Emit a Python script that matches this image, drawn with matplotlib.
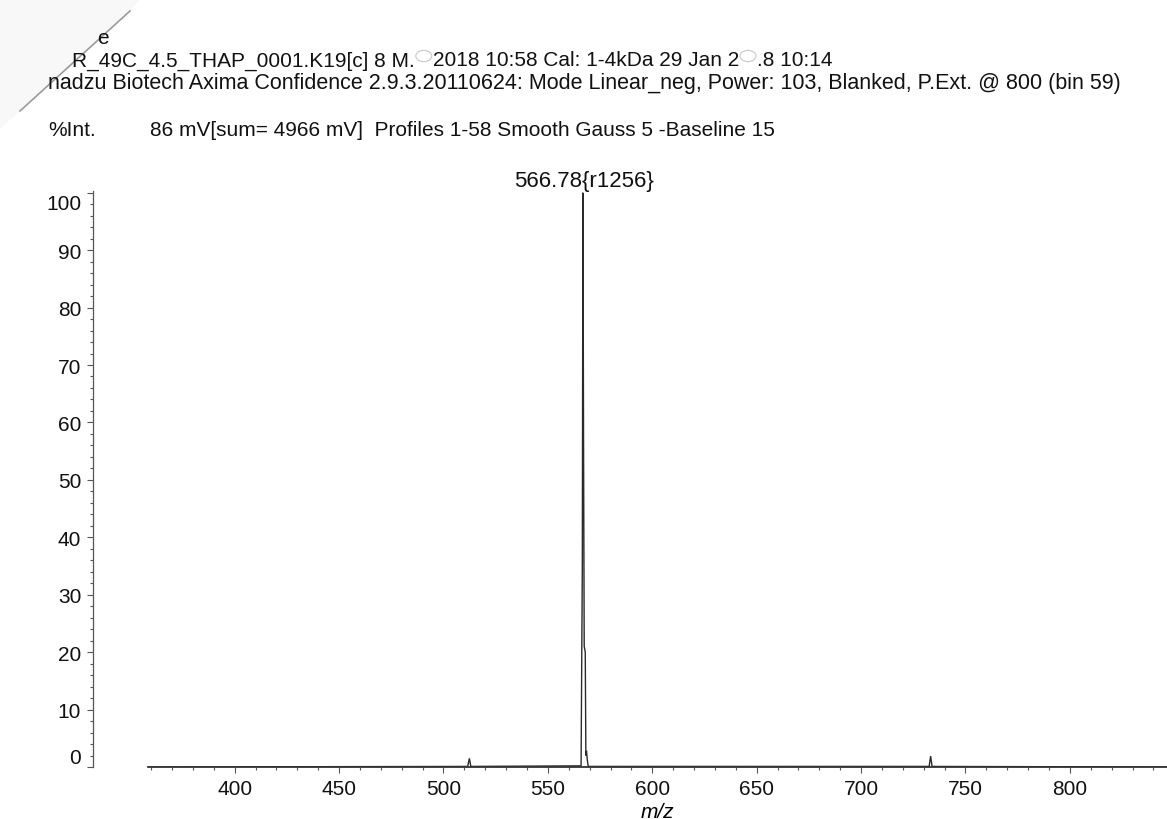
import matplotlib

matplotlib.use("Agg")
import matplotlib.pyplot as plt
from matplotlib.lines import Line2D
from matplotlib.patches import Circle, Polygon
from matplotlib.ticker import MultipleLocator
from matplotlib.transforms import ScaledTranslation

plt.rcParams["font.family"] = ["Liberation Sans", "DejaVu Sans"]

# Spectrum trace (m/z, %Int)
mz = [358.5, 511.6, 512.4, 513.1, 565.9, 566.5, 566.78, 567.1, 567.4,
      567.9, 568.2, 568.5, 568.9, 569.3, 732.6, 733.3, 734.0, 846.5]
intensity = [0.0, 0.1, 1.5, 0.1, 0.2, 35.0, 100.0, 55.0, 21.0,
             20.0, 2.0, 2.8, 1.2, 0.1, 0.1, 1.9, 0.1, 0.0]

peak_mz = 566.78
peak_label = "566.78{r1256}"

line1 = "e"
line2_parts = ["R_49C_4.5_THAP_0001.K19[c] 8 M.", "2018 10:58 Cal: 1-4kDa 29 Jan 2", ".8 10:14"]
line3 = "nadzu Biotech Axima Confidence 2.9.3.20110624: Mode Linear_neg, Power: 103, Blanked, P.Ext. @ 800 (bin 59)"
info_line = "86 mV[sum= 4966 mV]  Profiles 1-58 Smooth Gauss 5 -Baseline 15"

W, H = 1167, 820
FS = 15
TXT = "#111111"


def fx(px):
    return px / W


def fy(py):
    return 1 - py / H


fig = plt.figure(figsize=(W / 100, H / 100), dpi=100)

# faint grey scan margin left of the page fold
fig.add_artist(Polygon([(0, 1), (fx(140), 1), (fx(130), fy(12)), (fx(20), fy(112)), (0, fy(130))],
                       closed=True, transform=fig.transFigure, facecolor="#f8f8f8",
                       edgecolor="none", zorder=0))

ax = fig.add_axes([fx(148), fy(768), 1 - fx(148), (768 - 192) / H])
ax.patch.set_alpha(0)

ax.plot(mz, intensity, color="#2a2a2a", lw=1.0, solid_joinstyle="miter")
ax.set_xlim(358.5, 846.5)
ax.set_ylim(0, 100.3)

# detached y axis, like the instrument printout
ax.spines["left"].set_position(("outward", 55 * 0.72))
ax.spines["top"].set_visible(False)
ax.spines["right"].set_visible(False)
ax.spines["left"].set_color("#555555")
ax.spines["left"].set_linewidth(0.9)
ax.spines["bottom"].set_color("#333333")
ax.spines["bottom"].set_linewidth(1.3)

ax.xaxis.set_major_locator(MultipleLocator(50))
ax.xaxis.set_minor_locator(MultipleLocator(10))
ax.yaxis.set_major_locator(MultipleLocator(10))
ax.yaxis.set_minor_locator(MultipleLocator(2))
ax.tick_params(which="both", direction="out", color="#555555", width=0.8,
               labelsize=FS, labelcolor=TXT)
ax.tick_params(which="major", length=4.5, pad=4)
ax.tick_params(which="minor", length=2.5)

ax.set_xlabel("m/z", style="italic", fontsize=FS, labelpad=3)

ax.annotate(peak_label, xy=(peak_mz, 100), xytext=(1, 1),
            textcoords="offset points", ha="center", va="bottom",
            fontsize=16, color=TXT, annotation_clip=False)

fig.canvas.draw()
renderer = fig.canvas.get_renderer()

# end labels of the y scale are pulled inwards on the printout
for tick in ax.yaxis.get_major_ticks():
    shift = {0: 11, 100: -9}.get(round(tick.get_loc()))
    if shift is not None:
        lab = tick.label1
        lab.set_transform(lab.get_transform()
                          + ScaledTranslation(0, shift / 100, fig.dpi_scale_trans))

# header printed above the plot
fig.text(fx(97), fy(38), line1, fontsize=FS, va="center", color=TXT)
fig.text(fx(48), fy(83), line3, fontsize=15.5, va="center", color=TXT)
fig.text(fx(48), fy(130), "%Int.", fontsize=FS, va="center", color=TXT)
fig.text(fx(150), fy(130), info_line, fontsize=FS, va="center", color=TXT)

# second line has two holes punched through it
x = 72
gap = 18
holes = []
for i, part in enumerate(line2_parts):
    t = fig.text(fx(x), fy(61), part, fontsize=FS, va="center", color=TXT)
    x += t.get_window_extent(renderer).width
    if i < len(line2_parts) - 1:
        holes.append(x + gap / 2)
        x += gap

for cx in holes:
    fig.add_artist(Circle((fx(cx), fy(57)), 8 / W, transform=fig.transFigure,
                          facecolor="white", edgecolor="#c8c8c8", lw=0.8))

# fold line of the scanned page
fig.add_artist(Line2D([fx(20), fx(130)], [fy(112), fy(12)], color="#9a9a9a", lw=1.2))

fig.savefig("out.png", dpi=100)
